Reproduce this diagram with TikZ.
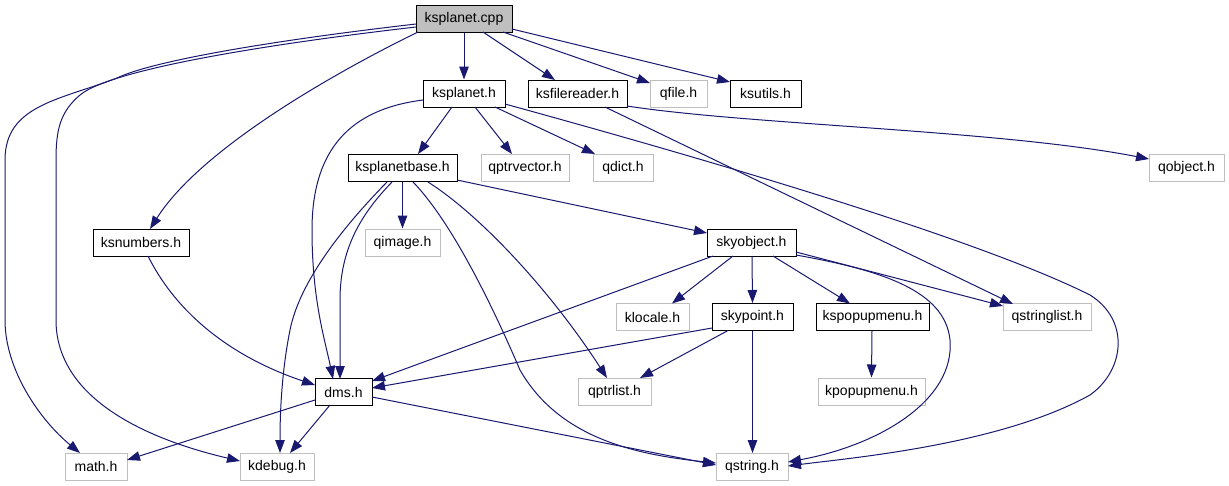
\documentclass[tikz,border=0pt]{standalone}
\usepackage{fontspec}
\setmainfont{Liberation Sans}
\usetikzlibrary{arrows.meta,calc}
\definecolor{edgec}{HTML}{191970}
\definecolor{extc}{HTML}{BFBFBF}
\definecolor{cppfill}{HTML}{BFBFBF}
\begin{document}
\begin{tikzpicture}[x=1pt,y=-1pt,
  box/.style={rectangle,draw=black,line width=1pt,inner sep=0pt,minimum height=27pt,font=\fontsize{14}{16}\selectfont,text=black},
  ext/.style={box,draw=extc},
  edge/.style={draw=edgec,line width=1pt,-{Triangle[length=13pt,width=9.5pt]}}]
\useasboundingbox (0,0) rectangle (1229,485);
\fill[white] (0,0) rectangle (1229,485);
% nodes
\node[box,fill=cppfill,minimum width=96pt] (cpp) at (464,18.5) {ksplanet.cpp};
\node[box,minimum width=82pt] (ksph) at (464,93.5) {ksplanet.h};
\node[box,minimum width=99pt] (ksfr) at (577.5,93.5) {ksfilereader.h};
\node[ext,minimum width=57pt] (qfile) at (678.5,93.5) {qfile.h};
\node[box,minimum width=71pt] (ksutils) at (765.5,93.5) {ksutils.h};
\node[ext,minimum width=75pt] (qobject) at (1186.5,168) {qobject.h};
\node[box,minimum width=109pt] (kspb) at (402.5,168) {ksplanetbase.h};
\node[ext,minimum width=88pt] (qptrvector) at (525,168) {qptrvector.h};
\node[ext,minimum width=60pt] (qdict) at (623,168) {qdict.h};
\node[ext,minimum width=75pt] (qimage) at (402.5,242.5) {qimage.h};
\node[box,minimum width=89pt] (skyobj) at (751.5,242.5) {skyobject.h};
\node[box,minimum width=96pt] (ksnum) at (141,242.5) {ksnumbers.h};
\node[ext,minimum width=73pt] (klocale) at (652.5,317) {klocale.h};
\node[box,minimum width=81pt] (skypoint) at (752.5,317) {skypoint.h};
\node[box,minimum width=113pt] (kspopup) at (872.5,317) {kspopupmenu.h};
\node[ext,minimum width=88pt] (qstringlist) at (1047,317) {qstringlist.h};
\node[box,minimum width=57pt] (dms) at (343.5,392) {dms.h};
\node[ext,minimum width=73pt] (qptrlist) at (614.5,391.5) {qptrlist.h};
\node[ext,minimum width=107pt] (kpopup) at (871.5,391.5) {kpopupmenu.h};
\node[ext,minimum width=62pt] (math) at (96,466.5) {math.h};
\node[ext,minimum width=74pt] (kdebug) at (277,466.5) {kdebug.h};
\node[ext,minimum width=72pt] (qstring) at (752,466.5) {qstring.h};
% edges from ksplanet.cpp
\draw[edge] ($(cpp)+(-48,5.5)$) .. controls (260,42) and (150,62) .. (117,78) .. controls (60,100) and (5,105) .. (5,160) -- (5,320) .. controls (5,370) and (40,420) .. ($(math)+(-16,-13.5)$);
\draw[edge] ($(cpp)+(-48,8.5)$) .. controls (260,45) and (110,70) .. (80,95) .. controls (60,112) and (56,130) .. (56,160) -- (56,320) .. controls (56,400) and (150,440) .. ($(kdebug)+(-37,-5.5)$);
\draw[edge] ($(cpp)+(-46,13.5)$) .. controls (330,75) and (200,150) .. ($(ksnum)+(9,-13.5)$);
\draw[edge] (cpp.south) -- (ksph.north);
\draw[edge] ($(cpp)+(19,13.5)$) -- ($(ksfr)+(-22.5,-13.5)$);
\draw[edge] ($(cpp)+(39,13.5)$) -- ($(qfile)+(-28.5,-10.5)$);
\draw[edge] ($(cpp)+(48,10.5)$) -- ($(ksutils)+(-35.5,-11.5)$);
% edges from ksplanet.h
\draw[edge] ($(ksph)+(-41,6.5)$) .. controls (360,108) and (312,140) .. (312,230) .. controls (312,300) and (325,340) .. ($(dms)+(-10.5,-13)$);
\draw[edge] ($(ksph)+(-12,13.5)$) -- ($(kspb)+(15.5,-14)$);
\draw[edge] ($(ksph)+(11,13.5)$) -- ($(qptrvector)+(-13,-14)$);
\draw[edge] ($(ksph)+(31,13.5)$) -- ($(qdict)+(-28,-14)$);
\draw[edge] ($(ksph)+(41,10.5)$) .. controls (800,185) and (1000,250) .. (1090,295) .. controls (1130,320) and (1125,370) .. (1090,395) .. controls (1000,445) and (850,458) .. ($(qstring)+(36,-0.5)$);
% edges from ksfilereader.h
\draw[edge] ($(ksfr)+(49.5,12.5)$) .. controls (750,125) and (1000,130) .. ($(qobject)+(-37.5,-9)$);
\draw[edge] ($(ksfr)+(27.5,13.5)$) -- ($(qstringlist)+(-34,-13)$);
% edges from ksplanetbase.h
\draw[edge] (kspb.south) -- (qimage.north);
\draw[edge] ($(kspb)+(54.5,12)$) -- ($(skyobj)+(-44.5,-9.5)$);
\draw[edge] ($(kspb)+(-15.5,14)$) .. controls (345,225) and (300,280) .. (290,330) .. controls (282,370) and (280,410) .. ($(kdebug)+(3,-13.5)$);
\draw[edge] ($(kspb)+(-10.5,14)$) .. controls (360,215) and (340,250) .. (340,300) -- ($(dms)+(-3.5,-13)$);
\draw[edge] ($(kspb)+(25.5,14)$) .. controls (480,215) and (550,290) .. ($(qptrlist)+(-7.5,-13.5)$);
\draw[edge] ($(kspb)+(10.5,14)$) .. controls (450,220) and (490,300) .. (520,370) .. controls (560,440) and (640,455) .. ($(qstring)+(-36,-3.5)$);
% ksnumbers.h
\draw[edge] ($(ksnum)+(7,13.5)$) .. controls (180,320) and (240,360) .. ($(dms)+(-28.5,-7)$);
% skyobject.h
\draw[edge] ($(skyobj)+(-38.5,13.5)$) -- ($(dms)+(28.5,-11)$);
\draw[edge] ($(skyobj)+(-18.5,13.5)$) -- ($(klocale)+(19.5,-13.5)$);
\draw[edge] ($(skyobj)+(0.5,13.5)$) -- (skypoint.north);
\draw[edge] ($(skyobj)+(21.5,13.5)$) -- ($(kspopup)+(-22.5,-13.5)$);
\draw[edge] ($(skyobj)+(44.5,9.5)$) -- ($(qstringlist)+(-44,-11)$);
\draw[edge] ($(skyobj)+(44.5,12.5)$) .. controls (880,270) and (945,290) .. (950,340) .. controls (955,400) and (880,445) .. ($(qstring)+(36,-4.5)$);
% skypoint.h
\draw[edge] ($(skypoint)+(-40.5,11)$) -- ($(dms)+(28.5,-4)$);
\draw[edge] ($(skypoint)+(-24.5,13.5)$) -- ($(qptrlist)+(25.5,-13.5)$);
\draw[edge] (skypoint.south) -- ($(qstring)+(0.5,-13.5)$);
% kspopupmenu.h
\draw[edge] ($(kspopup)+(-0.5,13.5)$) -- (kpopup.north);
% dms.h
\draw[edge] ($(dms)+(-28.5,8)$) -- ($(math)+(31,-6.5)$);
\draw[edge] ($(dms)+(-13.5,13)$) -- ($(kdebug)+(13,-13.5)$);
\draw[edge] ($(dms)+(28.5,5)$) -- ($(qstring)+(-36,-1.5)$);
\end{tikzpicture}
\end{document}
